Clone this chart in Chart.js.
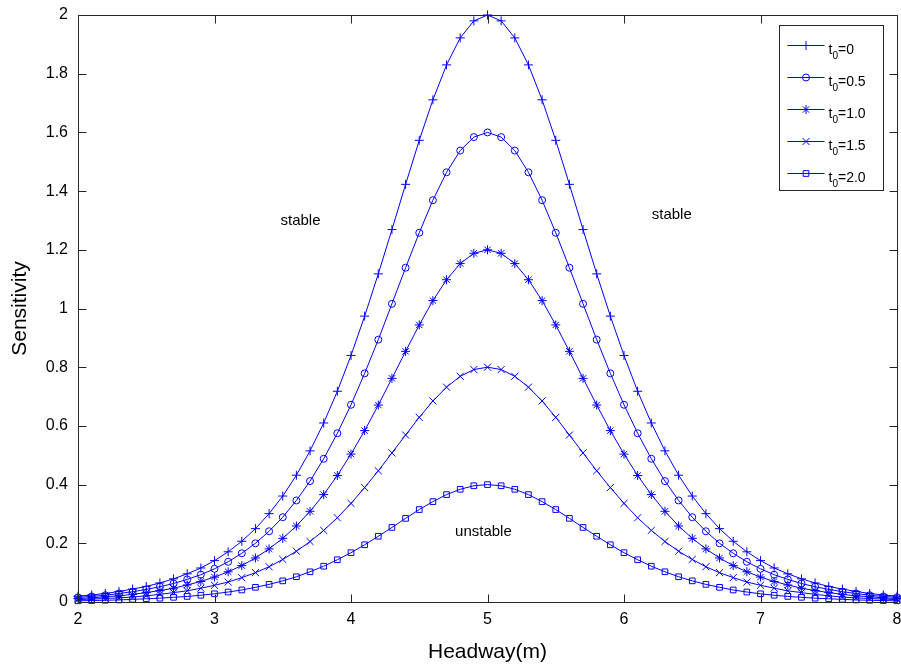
<!DOCTYPE html>
<html>
<head>
<meta charset="utf-8">
<title>Sensitivity vs Headway</title>
<script src="https://cdn.jsdelivr.net/npm/chart.js@4.4.0/dist/chart.umd.min.js"></script>
<style>
    html, body { margin: 0; padding: 0; background: #fff; }
    #wrap { position: relative; width: 901px; height: 665px; }
</style>
</head>
<body>
<div id="wrap"><canvas id="sensChart"></canvas></div>
<script>
// Dados
const headway = [2.0, 2.1, 2.2, 2.3, 2.4, 2.5, 2.6, 2.7, 2.8, 2.9, 3.0, 3.1, 3.2, 3.3, 3.4, 3.5, 3.6, 3.7, 3.8, 3.9,
    4.0, 4.1, 4.2, 4.3, 4.4, 4.5, 4.6, 4.7, 4.8, 4.9, 5.0, 5.1, 5.2, 5.3, 5.4, 5.5, 5.6, 5.7, 5.8, 5.9,
    6.0, 6.1, 6.2, 6.3, 6.4, 6.5, 6.6, 6.7, 6.8, 6.9, 7.0, 7.1, 7.2, 7.3, 7.4, 7.5, 7.6, 7.7, 7.8, 7.9, 8.0];

const sensT0_00 = [0.020, 0.024, 0.029, 0.036, 0.044, 0.053, 0.065, 0.079, 0.096, 0.116, 0.141, 0.171, 0.207, 0.250, 0.301,
    0.361, 0.432, 0.515, 0.610, 0.718, 0.840, 0.974, 1.118, 1.269, 1.423, 1.573, 1.711, 1.830, 1.922, 1.980, 2.000,
    1.980, 1.922, 1.830, 1.711, 1.573, 1.423, 1.269, 1.118, 0.974, 0.840, 0.718, 0.610, 0.515, 0.432, 0.361,
    0.301, 0.250, 0.207, 0.171, 0.141, 0.116, 0.096, 0.079, 0.065, 0.053, 0.044, 0.036, 0.029, 0.024, 0.020];

const sensT0_05 = [0.016, 0.019, 0.023, 0.029, 0.035, 0.043, 0.052, 0.063, 0.077, 0.093, 0.113, 0.137, 0.166, 0.200, 0.241,
    0.289, 0.346, 0.412, 0.488, 0.575, 0.672, 0.779, 0.894, 1.016, 1.139, 1.258, 1.369, 1.464, 1.538, 1.584, 1.600,
    1.584, 1.538, 1.464, 1.369, 1.258, 1.139, 1.016, 0.894, 0.779, 0.672, 0.575, 0.488, 0.412, 0.346, 0.289,
    0.241, 0.200, 0.166, 0.137, 0.113, 0.093, 0.077, 0.063, 0.052, 0.043, 0.035, 0.029, 0.023, 0.019, 0.016];

const sensT0_10 = [0.012, 0.014, 0.018, 0.021, 0.026, 0.032, 0.039, 0.047, 0.058, 0.070, 0.085, 0.103, 0.124, 0.150, 0.181,
    0.217, 0.259, 0.309, 0.366, 0.431, 0.504, 0.584, 0.671, 0.762, 0.854, 0.944, 1.027, 1.098, 1.153, 1.188, 1.200,
    1.188, 1.153, 1.098, 1.027, 0.944, 0.854, 0.762, 0.671, 0.584, 0.504, 0.431, 0.366, 0.309, 0.259, 0.217,
    0.181, 0.150, 0.124, 0.103, 0.085, 0.070, 0.058, 0.047, 0.039, 0.032, 0.026, 0.021, 0.018, 0.014, 0.012];

const sensT0_15 = [0.008, 0.010, 0.012, 0.014, 0.017, 0.021, 0.026, 0.032, 0.038, 0.047, 0.057, 0.068, 0.083, 0.100, 0.120,
    0.145, 0.173, 0.206, 0.244, 0.287, 0.336, 0.390, 0.447, 0.508, 0.569, 0.629, 0.685, 0.732, 0.769, 0.792, 0.800,
    0.792, 0.769, 0.732, 0.685, 0.629, 0.569, 0.508, 0.447, 0.390, 0.336, 0.287, 0.244, 0.206, 0.173, 0.145,
    0.120, 0.100, 0.083, 0.068, 0.057, 0.047, 0.038, 0.032, 0.026, 0.021, 0.017, 0.014, 0.012, 0.010, 0.008];

const sensT0_20 = [0.004, 0.005, 0.006, 0.007, 0.009, 0.011, 0.013, 0.016, 0.019, 0.023, 0.028, 0.034, 0.041, 0.050, 0.060,
    0.072, 0.086, 0.103, 0.122, 0.144, 0.168, 0.195, 0.224, 0.254, 0.285, 0.315, 0.342, 0.366, 0.384, 0.396, 0.400,
    0.396, 0.384, 0.366, 0.342, 0.315, 0.285, 0.254, 0.224, 0.195, 0.168, 0.144, 0.122, 0.103, 0.086, 0.072,
    0.060, 0.050, 0.041, 0.034, 0.028, 0.023, 0.019, 0.016, 0.013, 0.011, 0.009, 0.007, 0.006, 0.005, 0.004];

const seriesValues = [sensT0_00, sensT0_05, sensT0_10, sensT0_15, sensT0_20];
const seriesT0 = ['0', '0.5', '1.0', '1.5', '2.0'];
const seriesMarkers = ['cross', 'circle', 'star', 'crossRot', 'rect'];
const markerSizes = [4.5, 3.5, 4.5, 5, 4];

const xTicks = [2, 3, 4, 5, 6, 7, 8];
const yTicks = [0, 0.2, 0.4, 0.6, 0.8, 1, 1.2, 1.4, 1.6, 1.8, 2];

// Textos de região (coordenadas de dados)
const regionNotes = [
    { text: 'stable', x: 3.63, y: 1.30 },
    { text: 'stable', x: 6.35, y: 1.32 },
    { text: 'unstable', x: 4.97, y: 0.24 }
];

const BLUE = '#0000ff';
const AXIS = '#262626';
const FONT = "'Liberation Sans', Arial, sans-serif";

// Caixa estilo MATLAB com ticks para dentro, nos quatro lados
const boxAxesPlugin = {
    id: 'boxAxes',
    afterDatasetsDraw(chart) {
        const { ctx, chartArea: a, scales: { x, y } } = chart;
        const L = Math.round(a.left) + 0.5, R = Math.round(a.right) + 0.5;
        const T = Math.round(a.top) + 0.5, B = Math.round(a.bottom) + 0.5;
        const len = 8;
        ctx.save();
        ctx.strokeStyle = AXIS;
        ctx.lineWidth = 1;
        ctx.beginPath();
        ctx.rect(L, T, R - L, B - T);
        xTicks.forEach(v => {
            const px = Math.round(x.getPixelForValue(v)) + 0.5;
            ctx.moveTo(px, B); ctx.lineTo(px, B - len);
            ctx.moveTo(px, T); ctx.lineTo(px, T + len);
        });
        yTicks.forEach(v => {
            const py = Math.round(y.getPixelForValue(v)) + 0.5;
            ctx.moveTo(L, py); ctx.lineTo(L + len, py);
            ctx.moveTo(R, py); ctx.lineTo(R - len, py);
        });
        ctx.stroke();

        // anotações stable / unstable
        ctx.fillStyle = '#000';
        ctx.font = '15px ' + FONT;
        ctx.textAlign = 'center';
        ctx.textBaseline = 'middle';
        regionNotes.forEach(n => {
            ctx.fillText(n.text, x.getPixelForValue(n.x), y.getPixelForValue(n.y));
        });
        ctx.restore();
    }
};

// Legenda com subscrito t0
const boxLegendPlugin = {
    id: 'boxLegend',
    afterDraw(chart) {
        const { ctx, chartArea: a } = chart;
        const w = 104, h = 165;
        const left = Math.round(a.right) - 118 + 0.5;
        const top = Math.round(a.top) + 10 + 0.5;
        ctx.save();
        ctx.fillStyle = '#fff';
        ctx.fillRect(left, top, w, h);
        ctx.strokeStyle = AXIS;
        ctx.lineWidth = 1;
        ctx.strokeRect(left, top, w, h);

        chart.data.datasets.forEach((ds, i) => {
            const ry = Math.round(top + 19 + i * 32.2) + 0.5;
            ctx.strokeStyle = BLUE;
            ctx.lineWidth = 1;
            ctx.beginPath();
            ctx.moveTo(left + 8, ry);
            ctx.lineTo(left + 45, ry);
            ctx.stroke();
            ctx.fillStyle = 'rgba(0,0,0,0)';
            Chart.helpers.drawPoint(ctx, {
                pointStyle: ds.pointStyle,
                radius: ds.pointRadius,
                rotation: 0,
                borderWidth: 1
            }, left + 26.5, ry);

            ctx.fillStyle = '#000';
            ctx.textAlign = 'left';
            ctx.textBaseline = 'alphabetic';
            let tx = left + 49;
            ctx.font = '14px ' + FONT;
            ctx.fillText('t', tx, ry + 8);
            tx += ctx.measureText('t').width;
            ctx.font = '10px ' + FONT;
            ctx.fillText('0', tx, ry + 13);
            tx += ctx.measureText('0').width;
            ctx.font = '14px ' + FONT;
            ctx.fillText('=' + seriesT0[i], tx, ry + 8);
        });
        ctx.restore();
    }
};

const datasets = seriesValues.map((vals, i) => ({
    label: 't0=' + seriesT0[i],
    data: headway.map((h, k) => ({ x: h, y: vals[k] })),
    borderColor: BLUE,
    borderWidth: 1,
    pointStyle: seriesMarkers[i],
    pointRadius: markerSizes[i],
    pointBorderColor: BLUE,
    pointBorderWidth: 1,
    pointBackgroundColor: 'rgba(0,0,0,0)',
    tension: 0,
    clip: false
}));

const ctx = document.getElementById('sensChart').getContext('2d');
const sensChart = new Chart(ctx, {
    type: 'line',
    data: { datasets },
    options: {
        responsive: true,
        maintainAspectRatio: false,
        animation: false,
        layout: {
            autoPadding: false,
            padding: { left: 0, right: 4, top: 15, bottom: 0 }
        },
        plugins: {
            legend: { display: false },
            tooltip: { enabled: false }
        },
        scales: {
            x: {
                type: 'linear',
                min: 2,
                max: 8,
                afterBuildTicks: s => { s.ticks = xTicks.map(v => ({ value: v })); },
                afterFit: s => {
                    s.height = 63;
                    s.paddingLeft = 0;
                    s.paddingRight = 0;
                },
                grid: { display: false, drawTicks: false },
                border: { display: false },
                ticks: {
                    padding: 8,
                    color: '#000',
                    font: { family: FONT, size: 16 },
                    callback: v => String(v)
                },
                title: {
                    display: true,
                    text: 'Headway(m)',
                    color: '#000',
                    font: { family: FONT, size: 21 },
                    padding: { top: 0, bottom: 0 }
                }
            },
            y: {
                min: 0,
                max: 2,
                afterBuildTicks: s => { s.ticks = yTicks.map(v => ({ value: v })); },
                afterFit: s => {
                    s.width = 78;
                    s.paddingTop = 0;
                    s.paddingBottom = 0;
                },
                grid: { display: false, drawTicks: false },
                border: { display: false },
                ticks: {
                    padding: 10,
                    color: '#000',
                    font: { family: FONT, size: 16 },
                    callback: v => String(+v.toFixed(1))
                },
                title: {
                    display: true,
                    text: 'Sensitivity',
                    color: '#000',
                    font: { family: FONT, size: 21 },
                    padding: { top: 8, bottom: 0 }
                }
            }
        }
    },
    plugins: [boxAxesPlugin, boxLegendPlugin]
});
</script>
</body>
</html>
